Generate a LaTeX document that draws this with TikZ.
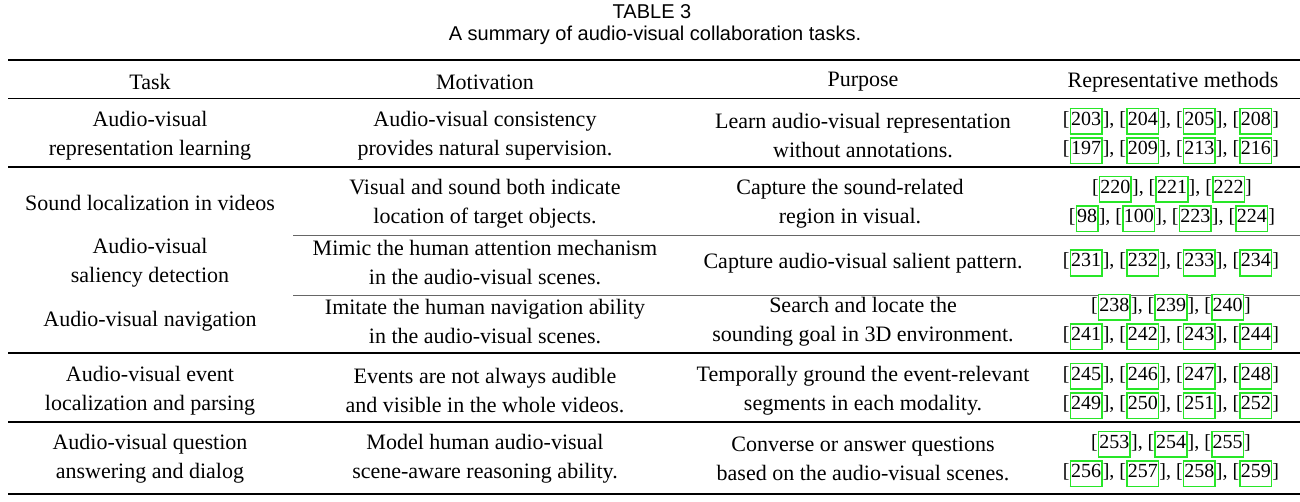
\documentclass[tikz,border=0pt]{standalone}
\usepackage{fontspec}
\setmainfont{Liberation Serif}
\newfontfamily\titlefont{Liberation Sans}
\definecolor{lgreen}{RGB}{40,230,40}
\newcommand\cb[1]{[{\fboxrule=1.6pt\fboxsep=0pt\fcolorbox{lgreen}{white}{\rule[-8pt]{0pt}{24pt}#1}}]}
\begin{document}
\begin{tikzpicture}[x=1pt,y=-1pt,
  cell/.style={align=center,font=\fontsize{22}{29}\selectfont,inner sep=0pt},
  cite/.style={align=center,font=\fontsize{20}{29.5}\selectfont,inner sep=0pt},
  ttl/.style={font=\titlefont\fontsize{20}{22}\selectfont,inner sep=0pt},
  thick rule/.style={line width=1.6pt},
  thin rule/.style={line width=1pt},
  part rule/.style={line width=0.8pt,black!60}]
\useasboundingbox (0,0) rectangle (1300,502);
\node[ttl] (t1) at (652,12) {TABLE 3};
\node[ttl] (t2) at (655,35) {A summary of audio-visual collaboration tasks.};
\draw[thick rule] (8,60) -- (1300,60);
\draw[thin rule] (8,99) -- (1300,99);
\draw[thick rule] (8,167) -- (1300,167);
\draw[part rule] (293,235) -- (1300,235);
\draw[part rule] (293,295) -- (1300,295);
\draw[thick rule] (8,353) -- (1300,353);
\draw[thick rule] (8,422) -- (1300,422);
\draw[thick rule] (8,494) -- (1300,494);
% header
\node[cell] (h1) at (150,82) {Task};
\node[cell] (h2) at (485,82) {Motivation};
\node[cell] (h3) at (863,82) {Purpose};
\node[cell] (h4) at (1173,82) {Representative methods};
% row 1
\node[cell] (a1) at (150,136) {Audio-visual\\representation learning};
\node[cell] (b1) at (485,136) {Audio-visual consistency\\provides natural supervision.};
\node[cell] (c1) at (863,136) {Learn audio-visual representation\\without annotations.};
\node[cite] (d1) at (1171,136) {\cb{203}, \cb{204}, \cb{205}, \cb{208}\\\cb{197}, \cb{209}, \cb{213}, \cb{216}};
% row 2
\node[cell] (a2) at (150,203) {Sound localization in videos};
\node[cell] (b2) at (485,204) {Visual and sound both indicate\\location of target objects.};
\node[cell] (c2) at (850,204) {Capture the sound-related\\region in visual.};
\node[cite] (d2) at (1172,204) {\cb{220}, \cb{221}, \cb{222}\\\cb{98}, \cb{100}, \cb{223}, \cb{224}};
% row 3
\node[cell] (a3) at (150,263) {Audio-visual\\saliency detection};
\node[cell] (b3) at (485,263) {Mimic the human attention mechanism\\in the audio-visual scenes.};
\node[cell] (c3) at (863,263) {Capture audio-visual salient pattern.};
\node[cite] (d3) at (1171,263) {\cb{231}, \cb{232}, \cb{233}, \cb{234}};
% row 4
\node[cell] (a4) at (150,321) {Audio-visual navigation};
\node[cell] (b4) at (485,322) {Imitate the human navigation ability\\in the audio-visual scenes.};
\node[cell] (c4) at (863,322) {Search and locate the\\sounding goal in 3D environment.};
\node[cite] (d4) at (1171,322) {\cb{238}, \cb{239}, \cb{240}\\\cb{241}, \cb{242}, \cb{243}, \cb{244}};
% row 5
\node[cell] (a5) at (150,391) {Audio-visual event\\localization and parsing};
\node[cell] (b5) at (485,391) {Events are not always audible\\and visible in the whole videos.};
\node[cell] (c5) at (863,391) {Temporally ground the event-relevant\\segments in each modality.};
\node[cite] (d5) at (1171,391) {\cb{245}, \cb{246}, \cb{247}, \cb{248}\\\cb{249}, \cb{250}, \cb{251}, \cb{252}};
% row 6
\node[cell] (a6) at (150,459) {Audio-visual question\\answering and dialog};
\node[cell] (b6) at (485,459) {Model human audio-visual\\scene-aware reasoning ability.};
\node[cell] (c6) at (863,459) {Converse or answer questions\\based on the audio-visual scenes.};
\node[cite] (d6) at (1171,459) {\cb{253}, \cb{254}, \cb{255}\\\cb{256}, \cb{257}, \cb{258}, \cb{259}};
\end{tikzpicture}
\end{document}
